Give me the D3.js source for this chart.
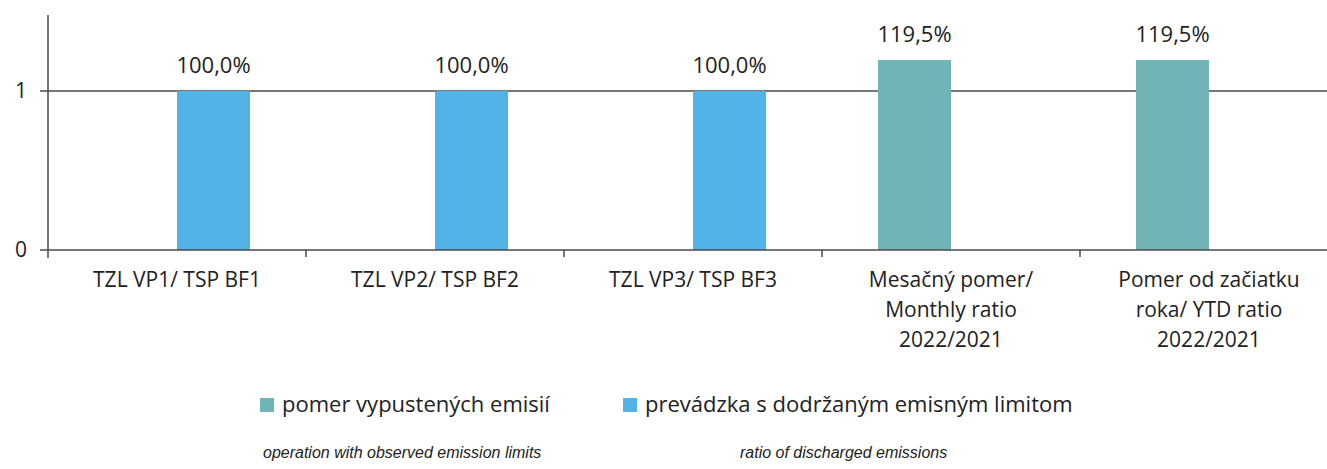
<!DOCTYPE html>
<html>
<head>
<meta charset="utf-8">
<script src="https://cdn.jsdelivr.net/npm/d3@7"></script>
<style>
  body { margin: 0; background: #fff; }
  svg { display: block; }
</style>
</head>
<body>
<div id="chart"></div>
<script>
// categories (multi-line labels)
let categories = ['TZL VP1/ TSP BF1', 'TZL VP2/ TSP BF2', 'TZL VP3/ TSP BF3',
    'Mesačný pomer/ Monthly ratio 2022/2021', 'Pomer od začiatku roka/ YTD ratio 2022/2021'];
let categoryLines = [
    ['TZL VP1/ TSP BF1'],
    ['TZL VP2/ TSP BF2'],
    ['TZL VP3/ TSP BF3'],
    ['Mesačný pomer/', 'Monthly ratio', '2022/2021'],
    ['Pomer od začiatku', 'roka/ YTD ratio', '2022/2021']
];
let seriesNames = ['pomer vypustených emisií', 'prevádzka s dodržaným emisným limitom'];
let ratioValues = [null, null, null, 1.195, 1.195];
let limitValues = [1, 1, 1, null, null];
let yTicks = [0, 1];
let englishNotes = ['operation with observed emission limits', 'ratio of discharged emissions'];

let colors = ['#70b4b6', '#52b3e7'];
let fmt = v => d3.format('.1f')(v * 100).replace('.', ',') + '%';

let totalWidth = 1327;
let totalHeight = 469;
let margin = { top: 12, left: 48 };
let catWidth = 258;

var svg = d3.select('#chart').append('svg')
    .attr('width', totalWidth)
    .attr('height', totalHeight)
    .style('font-family', '"Open Sans", sans-serif');

var x = d3.scaleBand()
    .domain(categories)
    .range([margin.left, margin.left + catWidth * categories.length]);

var xInner = d3.scaleBand()
    .domain(seriesNames)
    .range([0, x.bandwidth()])
    .paddingInner(0)
    .paddingOuter(0.767);

var y = d3.scaleLinear().domain([0, 1.5]).range([250, 11.5]);

// gridline at 1
svg.append('g')
    .selectAll('line')
    .data(yTicks.filter(d => d > 0))
    .enter().append('line')
    .attr('x1', margin.left).attr('x2', totalWidth)
    .attr('y1', d => y(d)).attr('y2', d => y(d))
    .attr('stroke', '#4a4a4a').attr('stroke-width', 1.5);

// bars
let tableData = [];
categories.forEach(function(c, i) {
    tableData.push({ cat: c, series: seriesNames[0], value: ratioValues[i], color: colors[0] });
    tableData.push({ cat: c, series: seriesNames[1], value: limitValues[i], color: colors[1] });
});
let barData = tableData.filter(d => d.value != null);

svg.selectAll('rect.bar')
    .data(barData)
    .enter().append('rect')
    .attr('class', 'bar')
    .attr('x', d => x(d.cat) + xInner(d.series))
    .attr('width', xInner.bandwidth())
    .attr('y', d => y(d.value))
    .attr('height', d => y(0) - y(d.value))
    .attr('fill', d => d.color);

// data labels
svg.selectAll('text.val')
    .data(barData)
    .enter().append('text')
    .attr('class', 'val')
    .attr('x', d => x(d.cat) + xInner(d.series) + xInner.bandwidth() / 2)
    .attr('y', d => y(d.value) - 18)
    .attr('text-anchor', 'middle')
    .style('font-size', '22px')
    .style('fill', '#222')
    .text(d => fmt(d.value));

// x axis
var xAxis = svg.append('g')
    .attr('transform', 'translate(0,' + y(0) + ')');
xAxis.append('line')
    .attr('x1', margin.left).attr('x2', totalWidth)
    .attr('stroke', '#4a4a4a').attr('stroke-width', 1.5);
xAxis.selectAll('line.tick')
    .data(categories)
    .enter().append('line')
    .attr('class', 'tick')
    .attr('x1', d => x(d) + catWidth).attr('x2', d => x(d) + catWidth)
    .attr('y1', 0).attr('y2', 7)
    .attr('stroke', '#4a4a4a').attr('stroke-width', 1.5);

xAxis.selectAll('text.cat')
    .data(categories)
    .enter().append('text')
    .attr('class', 'cat')
    .attr('text-anchor', 'middle')
    .style('font-size', '21px')
    .style('fill', '#222')
    .each(function(d, i) {
        let t = d3.select(this);
        categoryLines[i].forEach(function(line, j) {
            t.append('tspan')
                .attr('x', x(d) + catWidth / 2)
                .attr('y', 37 + j * 30)
                .text(line);
        });
    });

// y axis
var yAxis = svg.append('g');
yAxis.append('line')
    .attr('x1', margin.left).attr('x2', margin.left)
    .attr('y1', 15).attr('y2', y(0) + 8)
    .attr('stroke', '#4a4a4a').attr('stroke-width', 1.5);
yAxis.selectAll('line.tick')
    .data(yTicks)
    .enter().append('line')
    .attr('class', 'tick')
    .attr('x1', margin.left - 8).attr('x2', margin.left)
    .attr('y1', d => y(d)).attr('y2', d => y(d))
    .attr('stroke', '#4a4a4a').attr('stroke-width', 1.5);
yAxis.selectAll('text')
    .data(yTicks)
    .enter().append('text')
    .attr('x', 27)
    .attr('y', d => y(d))
    .attr('dy', '0.35em')
    .attr('text-anchor', 'end')
    .style('font-size', '21px')
    .style('fill', '#222')
    .text(d => d);

// legend
let legendX = [260, 623];
var legend = svg.selectAll('g.legend')
    .data(seriesNames)
    .enter().append('g')
    .attr('class', 'legend')
    .attr('transform', (d, i) => 'translate(' + legendX[i] + ',398)');
legend.append('rect')
    .attr('width', 14).attr('height', 14)
    .attr('fill', (d, i) => colors[i]);
legend.append('text')
    .attr('x', 22).attr('y', 14)
    .style('font-size', '22px')
    .style('fill', '#222')
    .text(d => d);

// english notes
let noteX = [263, 740];
svg.selectAll('text.note')
    .data(englishNotes)
    .enter().append('text')
    .attr('class', 'note')
    .attr('x', (d, i) => noteX[i])
    .attr('y', 458)
    .style('font-family', '"Liberation Sans", Arial, sans-serif')
    .style('font-style', 'italic')
    .style('font-size', '16px')
    .style('fill', '#222')
    .text(d => d);
</script>
</body>
</html>
